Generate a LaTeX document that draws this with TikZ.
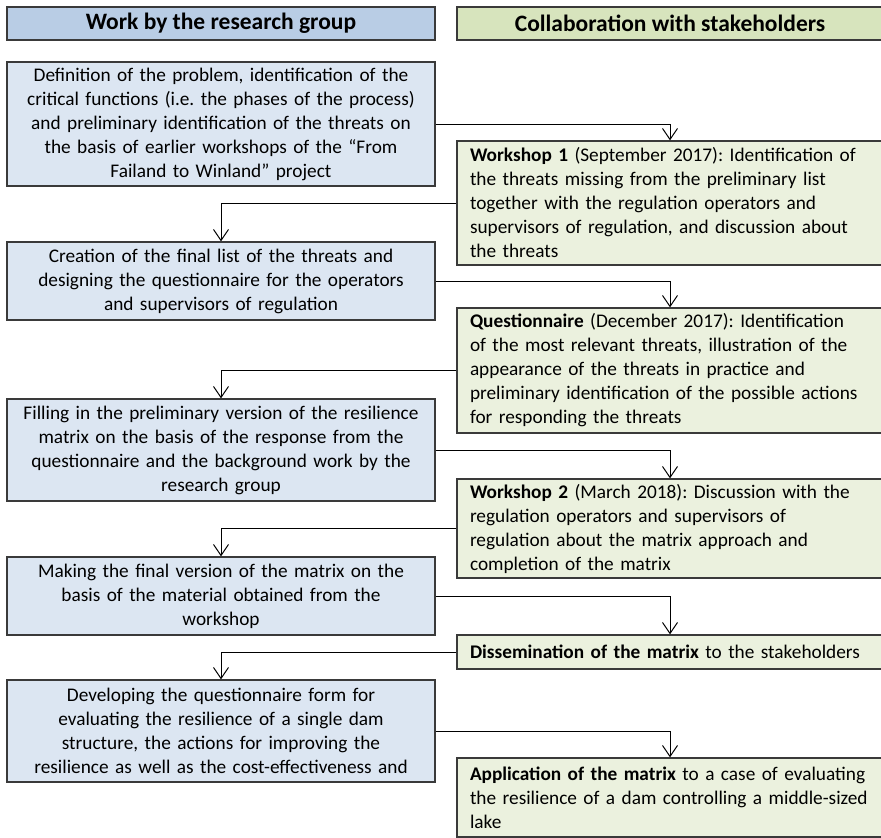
\documentclass[tikz,border=0pt]{standalone}
\usepackage{fontspec}
\setmainfont{Carlito}
\usetikzlibrary{arrows.meta}
\definecolor{hdrblue}{HTML}{B9CDE5}
\definecolor{boxblue}{HTML}{DCE6F2}
\definecolor{hdrgreen}{HTML}{D7E4BD}
\definecolor{boxgreen}{HTML}{EBF1DE}
\definecolor{edgegray}{HTML}{3A3A3A}
\frenchspacing
\tikzset{
  basebox/.style={draw=edgegray, line width=1.3pt, rectangle, inner ysep=0pt, font=\fontsize{19.3}{24}\selectfont\frenchspacing},
  lefthdr/.style={basebox, fill=hdrblue, minimum width=428pt, minimum height=33pt, font=\fontsize{23.5}{26}\selectfont\bfseries},
  righthdr/.style={basebox, fill=hdrgreen, minimum width=426pt, minimum height=33pt, font=\fontsize{23.5}{26}\selectfont\bfseries},
  leftbox/.style={basebox, fill=boxblue, text width=418pt, inner xsep=5pt, align=center},
  rightbox/.style={basebox, fill=boxgreen, text width=400pt, inner xsep=13pt, align=left},
  flow/.style={draw=black, line width=1pt, -{Straight Barb[length=11pt,width=15pt,line width=1pt]}}
}
\begin{document}
\begin{tikzpicture}[x=1pt,y=-1pt]
\useasboundingbox (0,0) rectangle (881,838);
\clip (0,0) rectangle (881,838);
% headers
\node[lefthdr] (h1) at (221,23.5) {Work by the research group};
\node[righthdr] (h2) at (670,23.5) {Collaboration with stakeholders};
% left column
\node[leftbox, minimum height=124pt] (l1) at (221,124) {Definition of the problem, identification of the\\critical functions (i.e. the phases of the process)\\and preliminary identification of the threats on\\the basis of earlier workshops of the “From\\Failand to Winland” project};
\node[leftbox, minimum height=78pt] (l2) at (221,281) {Creation of the final list of the threats and\\designing the questionnaire for the operators\\and supervisors of regulation};
\node[leftbox, minimum height=102pt] (l3) at (221,450) {Filling in the preliminary version of the resilience\\matrix on the basis of the response from the\\questionnaire and the background work by the\\research group};
\node[leftbox, minimum height=78pt] (l4) at (221,596) {Making the final version of the matrix on the\\basis of the material obtained from the\\workshop};
\node[leftbox, minimum height=102pt] (l5) at (221,731) {Developing the questionnaire form for\\evaluating the resilience of a single dam\\structure, the actions for improving the\\resilience as well as the cost-effectiveness and};
% right column
\node[rightbox, minimum height=124pt] (r1) at (670,203) {\textbf{Workshop 1} (September 2017): Identification of\\the threats missing from the preliminary list\\together with the regulation operators and\\supervisors of regulation, and discussion about\\the threats};
\node[rightbox, minimum height=125pt] (r2) at (670,370.5) {\textbf{Questionnaire} (December 2017): Identification\\of the most relevant threats, illustration of the\\appearance of the threats in practice and\\preliminary identification of the possible actions\\for responding the threats};
\node[rightbox, minimum height=99pt] (r3) at (670,528.5) {\textbf{Workshop 2} (March 2018): Discussion with the\\regulation operators and supervisors of\\regulation about the matrix approach and\\completion of the matrix};
\node[rightbox, minimum height=34pt] (r4) at (670,652) {\textbf{Dissemination of the matrix} to the stakeholders};
\node[rightbox, minimum height=79pt] (r5) at (670,797.5) {\textbf{Application of the matrix} to a case of evaluating\\the resilience of a dam controlling a middle-sized\\lake};
% connectors
\draw[flow] (l1.east) -| (r1.north);
\draw[flow] (r1.west) -| (l2.north);
\draw[flow] (l2.east) -| (r2.north);
\draw[flow] (r2.west) -| (l3.north);
\draw[flow] (l3.east) -| (r3.north);
\draw[flow] (r3.west) -| (l4.north);
\draw[flow] (l4.east) -| (r4.north);
\draw[flow] (r4.west) -| (l5.north);
\draw[flow] (l5.east) -| (r5.north);
\end{tikzpicture}
\end{document}
